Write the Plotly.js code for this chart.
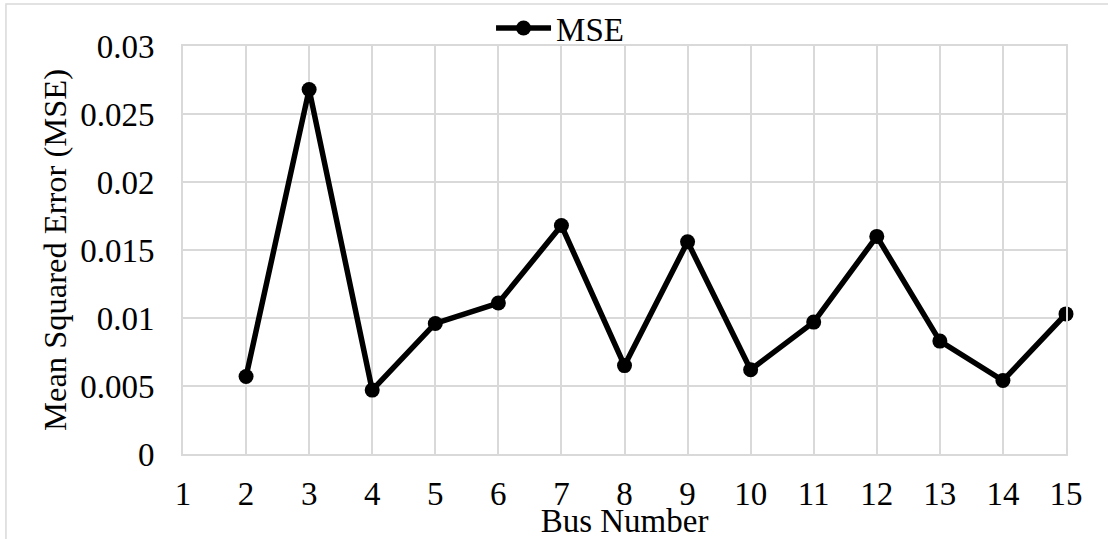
<!DOCTYPE html>
<html>
<head>
<meta charset="utf-8">
<script src="https://cdn.plot.ly/plotly-3.0.1.min.js"></script>
<style>
  html, body { margin: 0; padding: 0; background: #ffffff; }
  #chart { width: 1108px; height: 539px; }
</style>
</head>
<body>
<div id="chart"></div>
<script>
// Mean squared error per bus
const busNumbers = [2, 3, 4, 5, 6, 7, 8, 9, 10, 11, 12, 13, 14, 15];
const mseValues = [0.0057, 0.0268, 0.0047, 0.0096, 0.0111, 0.0168, 0.0065, 0.0156, 0.0062, 0.0097, 0.0160, 0.0083, 0.0054, 0.0103];

const xTickVals = [1, 2, 3, 4, 5, 6, 7, 8, 9, 10, 11, 12, 13, 14, 15];
const yTickVals = [0, 0.005, 0.01, 0.015, 0.02, 0.025, 0.03];
const yTickText = ['0', '0.005', '0.01', '0.015', '0.02', '0.025', '0.03'];

const serif = 'Liberation Serif, Times New Roman, serif';
const gridGray = '#d9d9d9';
const fontSize = 33;

const trace = {
  x: busNumbers,
  y: mseValues,
  type: 'scatter',
  mode: 'lines+markers',
  name: 'MSE',
  cliponaxis: false,
  line: { color: '#000000', width: 5.5 },
  marker: { color: '#000000', size: 15 }
};

const layout = {
  width: 1108,
  height: 539,
  margin: { l: 183, r: 42, t: 46, b: 85, autoexpand: false },
  paper_bgcolor: '#ffffff',
  plot_bgcolor: '#ffffff',
  font: { family: serif, size: fontSize, color: '#000000' },
  showlegend: true,
  legend: {
    orientation: 'h',
    xref: 'paper', yref: 'paper',
    x: 0.427, xanchor: 'center',
    y: 1.044, yanchor: 'middle',
    itemwidth: 55,
    font: { family: serif, size: fontSize, color: '#000000' },
    bgcolor: 'rgba(0,0,0,0)'
  },
  xaxis: {
    range: [1, 15],
    tickmode: 'array',
    tickvals: xTickVals,
    ticktext: xTickVals.map(String),
    showgrid: true,
    gridcolor: gridGray,
    gridwidth: 2,
    showline: true,
    linecolor: gridGray,
    linewidth: 2,
    mirror: true,
    zeroline: false,
    ticks: 'outside',
    ticklen: 9,
    tickcolor: 'rgba(0,0,0,0)',
    tickfont: { family: serif, size: fontSize, color: '#000000' },
    title: { text: 'Bus Number', font: { family: serif, size: fontSize, color: '#000000' }, standoff: 5 }
  },
  yaxis: {
    range: [0, 0.03],
    tickmode: 'array',
    tickvals: yTickVals,
    ticktext: yTickText,
    showgrid: true,
    gridcolor: gridGray,
    gridwidth: 2,
    showline: true,
    linecolor: gridGray,
    linewidth: 2,
    mirror: true,
    zeroline: false,
    ticks: 'outside',
    ticklen: 20,
    tickcolor: 'rgba(0,0,0,0)',
    tickfont: { family: serif, size: fontSize, color: '#000000' },
    title: { text: 'Mean Squared Error (MSE)', font: { family: serif, size: 32.5, color: '#000000' }, standoff: 4 }
  },
  shapes: [{
    type: 'rect',
    xref: 'paper', yref: 'paper',
    x0: -0.2005, x1: 1.5,
    y0: -0.5, y1: 1.1029,
    line: { color: gridGray, width: 1.5 },
    fillcolor: 'rgba(0,0,0,0)',
    layer: 'below'
  }]
};

Plotly.newPlot('chart', [trace], layout, { displayModeBar: false, staticPlot: true });
</script>
</body>
</html>
